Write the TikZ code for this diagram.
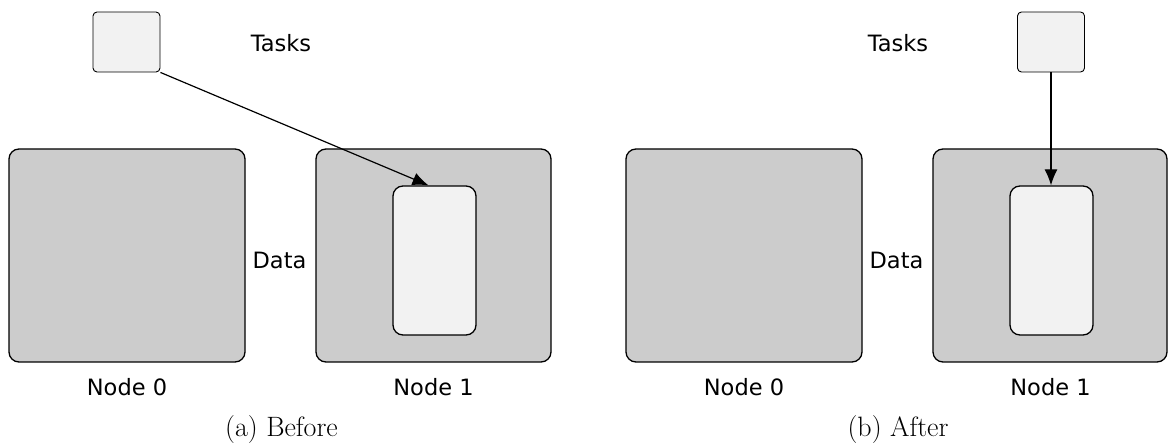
\documentclass[tikz,border=0pt]{standalone}
\usepackage{fontspec}
\newfontfamily\dejavu{DejaVu Sans}
\usetikzlibrary{arrows.meta}
\definecolor{bigfill}{HTML}{CCCCCC}
\definecolor{smallfill}{HTML}{F2F2F2}
\tikzset{
  bigbox/.style={draw=black, fill=bigfill, line width=1.3pt, rounded corners=10pt, inner sep=0pt},
  innerbox/.style={draw=black, fill=smallfill, line width=1.3pt, rounded corners=10pt, inner sep=0pt, minimum width=83pt, minimum height=149pt},
  taskbox/.style={draw=black, fill=smallfill, line width=0.9pt, rounded corners=4pt, inner sep=0pt, minimum width=67pt, minimum height=60pt},
  lbl/.style={font=\dejavu\fontsize{22.5}{27}\selectfont, inner sep=0pt, anchor=base},
  captext/.style={font=\fontsize{28}{33}\selectfont, inner sep=0pt, anchor=base},
  conn/.style={line width=1.2pt, -{Latex[length=16pt,width=13pt]}}
}
\begin{document}
\begin{tikzpicture}[x=1pt,y=-1pt]
\useasboundingbox (0,0) rectangle (1168,443);
% ---- panel (a)
\node[bigbox, minimum width=236pt, minimum height=213pt] (a0) at (127,255.5) {};
\node[bigbox, minimum width=235pt, minimum height=213pt] (a1) at (433.5,255.5) {};
\node[innerbox] (ai) at (434.5,260.5) {};
\node[taskbox] (at) at (126.5,42) {};
\node[lbl] (atasks) at (281,52) {Tasks};
\node[lbl] (adata) at (279.5,269) {Data};
\node[lbl] (an0) at (127,396) {Node 0};
\node[lbl] (an1) at (433.5,396) {Node 1};
\node[captext] (acap) at (281.5,436.5) {(a) Before};
\draw[conn] (at.south east) -- ([xshift=-6pt]ai.north);
% ---- panel (b)
\node[bigbox, minimum width=236pt, minimum height=213pt] (b0) at (744,255.5) {};
\node[bigbox, minimum width=234pt, minimum height=213pt] (b1) at (1050,255.5) {};
\node[innerbox] (bi) at (1051.5,260.5) {};
\node[taskbox] (bt) at (1051,42) {};
\node[lbl] (btasks) at (898,52) {Tasks};
\node[lbl] (bdata) at (896.5,269) {Data};
\node[lbl] (bn0) at (744,396) {Node 0};
\node[lbl] (bn1) at (1050.5,396) {Node 1};
\node[captext] (bcap) at (898,436.5) {(b) After};
\draw[conn] (bt.south) -- (bt.south |- bi.north);
\end{tikzpicture}
\end{document}
